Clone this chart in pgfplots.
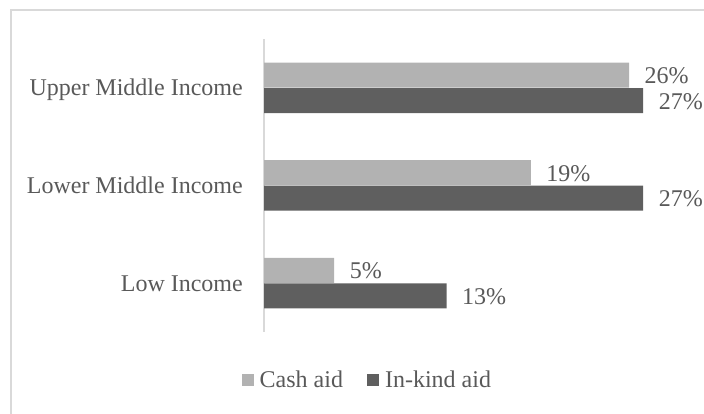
\documentclass[border=0pt]{standalone}
\usepackage{fontspec}
\setmainfont{Liberation Serif}
\usepackage{pgfplots}
\pgfplotsset{compat=1.18}
\definecolor{cashc}{HTML}{B2B2B2}
\definecolor{kindc}{HTML}{5F5F5F}
\definecolor{txtc}{HTML}{595959}
\definecolor{linec}{HTML}{D9D9D9}
\begin{document}
\begin{tikzpicture}[font=\fontsize{24}{28}\selectfont]
\useasboundingbox (0,0) rectangle (704pt,414pt);
\draw[linec, line width=1.5pt] (11pt,0pt) -- (11pt,404pt) -- (704pt,404pt);
\begin{axis}[
  at={(264pt,82pt)}, anchor=south west,
  scale only axis, width=421.2pt, height=293pt,
  xbar, xmin=0, xmax=30, ymin=-0.5, ymax=2.5,
  bar width=25pt,
  axis x line=none,
  axis y line=left,
  y axis line style={-, draw=linec, line width=1.5pt},
  ytick={0,1,2},
  yticklabels={Low Income, Lower Middle Income, Upper Middle Income},
  major tick length=0pt,
  yticklabel style={anchor=base east, inner sep=0pt, xshift=-21pt, yshift=-8pt, text=txtc},
  clip=false,
  point meta=x,
  nodes near coords={\pgfmathprintnumber[assume math mode=true]{\pgfplotspointmeta}\%},
  every node near coord/.append style={anchor=base west, inner sep=0pt, xshift=15.5pt, yshift=-8.5pt, text=txtc},
  legend columns=2,
  legend image code/.code={\fill[#1] (0pt,-6pt) rectangle (12pt,6pt); \path (18pt,0pt);},
  legend style={at={(0.243,-0.164)}, anchor=center, draw=none, fill=none,
    nodes={inner sep=0pt, text=txtc}, column sep=0pt,
    /tikz/every even column/.append style={column sep=24pt}},
]
\addplot[fill=cashc, draw=none, bar shift=12.75pt] coordinates {(5,0) (19,1) (26,2)};
\addlegendentry{Cash aid}
\addplot[fill=kindc, draw=none, bar shift=-12.75pt] coordinates {(13,0) (27,1) (27,2)};
\addlegendentry{In-kind aid}
\end{axis}
\end{tikzpicture}
\end{document}
